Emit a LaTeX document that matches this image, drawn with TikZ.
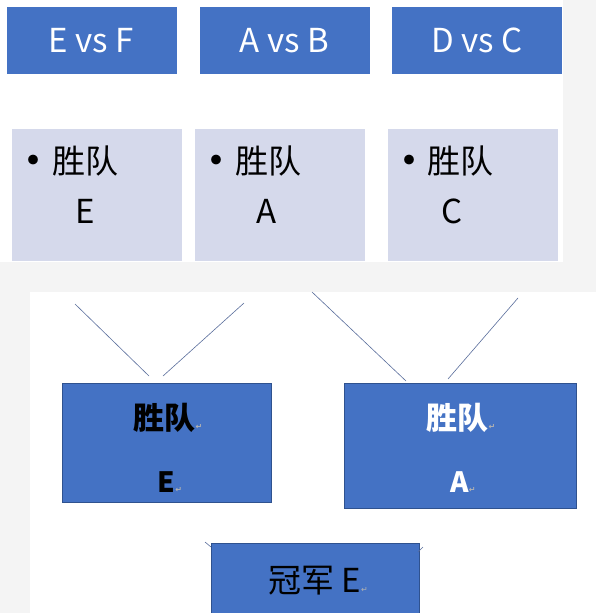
\documentclass[tikz,border=0pt]{standalone}
\usepackage{fontspec}
\setmainfont{Noto Sans CJK SC}
\newfontfamily\symfont{DejaVu Sans}
\definecolor{wordblue}{HTML}{4472C4}
\definecolor{wordedge}{HTML}{2F528F}
\definecolor{lavender}{HTML}{D5D9EB}
\definecolor{bggray}{HTML}{F4F4F4}
\definecolor{wirecol}{HTML}{5A6E9C}
\tikzstyle{game}=[rectangle,fill=wordblue,text=white,minimum width=170pt,minimum height=67pt,inner sep=0pt,font=\fontsize{33}{40}\selectfont]
\tikzstyle{winbox}=[rectangle,fill=lavender,minimum width=170pt,minimum height=132pt,inner sep=0pt]
\tikzstyle{round}=[rectangle,fill=wordblue,draw=wordedge,line width=0.8pt,inner sep=0pt]
\tikzstyle{big}=[inner sep=0pt,font=\fontsize{33}{40}\selectfont]
\tikzstyle{dot}=[inner sep=0pt,font=\fontsize{46}{50}\selectfont]
\tikzstyle{wire}=[draw=wirecol,line width=0.6pt]
\newcommand{\pmark}{{\symfont\fontsize{8}{8}\selectfont\textcolor{gray!60}{↵}}}

\begin{document}
\begin{tikzpicture}[x=1pt,y=-1pt]
\useasboundingbox (0,0) rectangle (596,613);
\fill[bggray] (0,0) rectangle (596,613);
\fill[white] (0,0) rectangle (563,262);
\fill[white] (30,292) rectangle (596,613);
% first round
\node[game] at (91.5, 40.5) (ef) {E vs F};
\node[game] at (284.5, 40.5) (ab) {A vs B};
\node[game] at (477, 40.5) (dc) {D vs C};
\node[winbox] at (97, 195) (we) {};
\node[winbox] at (279.5, 195) (wa) {};
\node[winbox] at (473, 195) (wc) {};
\node[dot, anchor = base] at (33, 177) (b1) {•};
\node[big, anchor = base west] at (52, 173) (t1) {胜队};
\node[big, anchor = base west] at (75, 223) (l1) {E};
\node[dot, anchor = base] at (216, 177) (b2) {•};
\node[big, anchor = base west] at (235, 173) (t2) {胜队};
\node[big, anchor = base west] at (256, 223) (l2) {A};
\node[dot, anchor = base] at (409, 177) (b3) {•};
\node[big, anchor = base west] at (427, 173) (t3) {胜队};
\node[big, anchor = base west] at (441, 223) (l3) {C};
% second round
\node[round, minimum width = 209pt, minimum height = 119pt] at (166.5, 442.5) (se) {};
\node[round, minimum width = 232pt, minimum height = 125pt] at (460, 445.5) (sa) {};
\node[inner sep=0pt, anchor = base, font=\fontsize{31}{36}\selectfont\bfseries] at (168, 429) (se1) {胜队\pmark};
\node[inner sep=0pt, anchor = base, font=\fontsize{28}{32}\selectfont\bfseries] at (170, 492) (se2) {E\pmark};
\node[inner sep=0pt, anchor = base, text = white, font=\fontsize{31}{36}\selectfont\bfseries] at (461, 429) (sa1) {胜队\pmark};
\node[inner sep=0pt, anchor = base, text = white, font=\fontsize{28}{32}\selectfont\bfseries] at (463, 492) (sa2) {A\pmark};
% final
\node[round, minimum width = 208pt, minimum height = 80pt] at (315, 583) (fin) {};
\node[big, anchor = base] at (318, 592) (fin1) {冠军 E\pmark};
% connectors
\coordinate (e1) at (75, 304);
\coordinate (e2) at (149, 376);
\coordinate (e3) at (244, 303);
\coordinate (e4) at (163, 376);
\coordinate (a1) at (312, 292);
\coordinate (a2) at (406, 381);
\coordinate (a3) at (518, 298);
\coordinate (a4) at (448, 379);
\coordinate (f1) at (205, 542);
\coordinate (f2) at (211, 547);
\coordinate (f3) at (423, 547);
\coordinate (f4) at (418, 552);
\draw[wire] (e1) -- (e2);
\draw[wire] (e3) -- (e4);
\draw[wire] (a1) -- (a2);
\draw[wire] (a3) -- (a4);
\draw[wire] (f1) -- (f2);
\draw[wire] (f3) -- (f4);
\end{tikzpicture}
\end{document}
